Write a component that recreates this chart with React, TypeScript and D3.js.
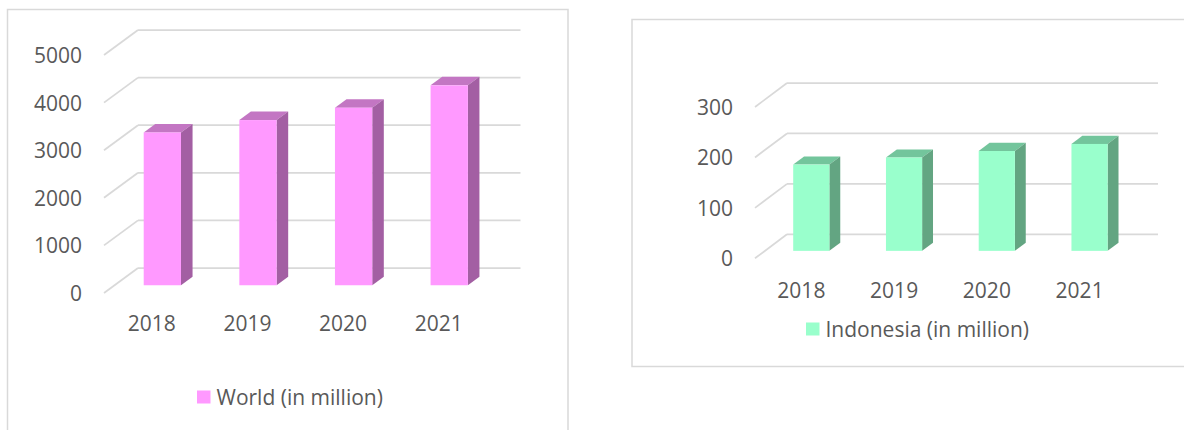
import React from 'react';
import * as d3 from 'd3';

const years: string[] = ['2018', '2019', '2020', '2021'];
const worldValues: number[] = [3210, 3470, 3730, 4200];
const indonesiaValues: number[] = [171, 185, 198, 212];
const worldTicks: number[] = [0, 1000, 2000, 3000, 4000, 5000];
const indonesiaTicks: number[] = [0, 100, 200, 300];
const worldLabel = 'World (in million)';
const indonesiaLabel = 'Indonesia (in million)';

type Cfg = {
  values: number[];
  ticks: number[];
  label: string;
  frame: { x: number; y: number; w: number; h: number };
  x0: number; x1: number; yBase: number; yTop: number; max: number;
  depthX: number; depthY: number;
  front: string; top: string; side: string;
  legendX: number; legendY: number;
  xLabelGap: number;
};

const FONT = "'Open Sans', sans-serif";
const TEXT = '#595959';
const GRID = '#d9d9d9';

function Chart3D({ cfg }: { cfg: Cfg }) {
  const x = d3.scaleBand<string>().domain(years).range([cfg.x0, cfg.x1]).padding(0);
  const y = d3.scaleLinear().domain([0, cfg.max]).range([cfg.yBase, cfg.yTop]);
  const bw = x.bandwidth();
  const dX = -cfg.depthX;
  const dY = cfg.depthY;
  const fF = 0.69;
  const fB = 0.35;
  const half = (bw * 0.39) / 2;
  const pts = (a: [number, number][]) => a.map((p) => p.join(',')).join(' ');

  return (
    <g>
      <rect x={cfg.frame.x} y={cfg.frame.y} width={cfg.frame.w} height={cfg.frame.h} fill="#fff" stroke={GRID} strokeWidth={1.5} />
      {cfg.ticks.map((t) => {
        const yy = y(t);
        return (
          <g key={t}>
            <line x1={cfg.x0 + dX} y1={yy + dY} x2={cfg.x0} y2={yy} stroke={GRID} strokeWidth={1.75} />
            <line x1={cfg.x0} y1={yy} x2={cfg.x1} y2={yy} stroke={GRID} strokeWidth={1.75} />
            <text x={cfg.x0 + dX - 22} y={yy + dY} textAnchor="end" dominantBaseline="central" fontFamily={FONT} fontSize={21} fill={TEXT}>{t}</text>
          </g>
        );
      })}
      {years.map((yr, i) => {
        const c = (x(yr) as number) + bw / 2;
        const v = cfg.values[i];
        const fl = c - half + dX * fF, fr = c + half + dX * fF;
        const ft = y(v) + dY * fF, fb = y(0) + dY * fF;
        const bl = c - half + dX * fB, br = c + half + dX * fB;
        const bt = y(v) + dY * fB, bb = y(0) + dY * fB;
        return (
          <g key={yr}>
            <polygon points={pts([[fl, ft], [fr, ft], [br, bt], [bl, bt]])} fill={cfg.top} />
            <polygon points={pts([[fr, ft], [br, bt], [br, bb], [fr, fb]])} fill={cfg.side} />
            <rect x={fl} y={ft} width={fr - fl} height={fb - ft} fill={cfg.front} />
            <text x={c + dX} y={y(0) + dY + cfg.xLabelGap} textAnchor="middle" dominantBaseline="central" fontFamily={FONT} fontSize={21} fill={TEXT}>{yr}</text>
          </g>
        );
      })}
      <rect x={cfg.legendX} y={cfg.legendY - 6.5} width={13.5} height={13} fill={cfg.front} />
      <text x={cfg.legendX + 19.5} y={cfg.legendY} dominantBaseline="central" fontFamily={FONT} fontSize={21} fill={TEXT}>{cfg.label}</text>
    </g>
  );
}

const worldCfg: Cfg = {
  values: worldValues,
  ticks: worldTicks,
  label: worldLabel,
  frame: { x: 7.5, y: 9.5, w: 560.5, h: 440 },
  x0: 138, x1: 520.5, yBase: 268, yTop: 30, max: 5000,
  depthX: 34, depthY: 25,
  front: '#ff99ff', top: '#c376c3', side: '#a35fa3',
  legendX: 197, legendY: 397,
  xLabelGap: 30,
};

const indoCfg: Cfg = {
  values: indonesiaValues,
  ticks: indonesiaTicks,
  label: indonesiaLabel,
  frame: { x: 632, y: 19.5, w: 600, h: 347 },
  x0: 787, x1: 1158, yBase: 234.3, yTop: 83, max: 300,
  depthX: 32, depthY: 24,
  front: '#99ffcc', top: '#73c59c', side: '#63a582',
  legendX: 806, legendY: 329,
  xLabelGap: 32,
};

export default function App() {
  return (
    <svg width={1184} height={430} style={{ position: 'absolute', left: 0, top: 0, background: '#fff' }}>
      <rect x={0} y={0} width={1184} height={430} fill="#fff" />
      <Chart3D cfg={worldCfg} />
      <Chart3D cfg={indoCfg} />
    </svg>
  );
}
